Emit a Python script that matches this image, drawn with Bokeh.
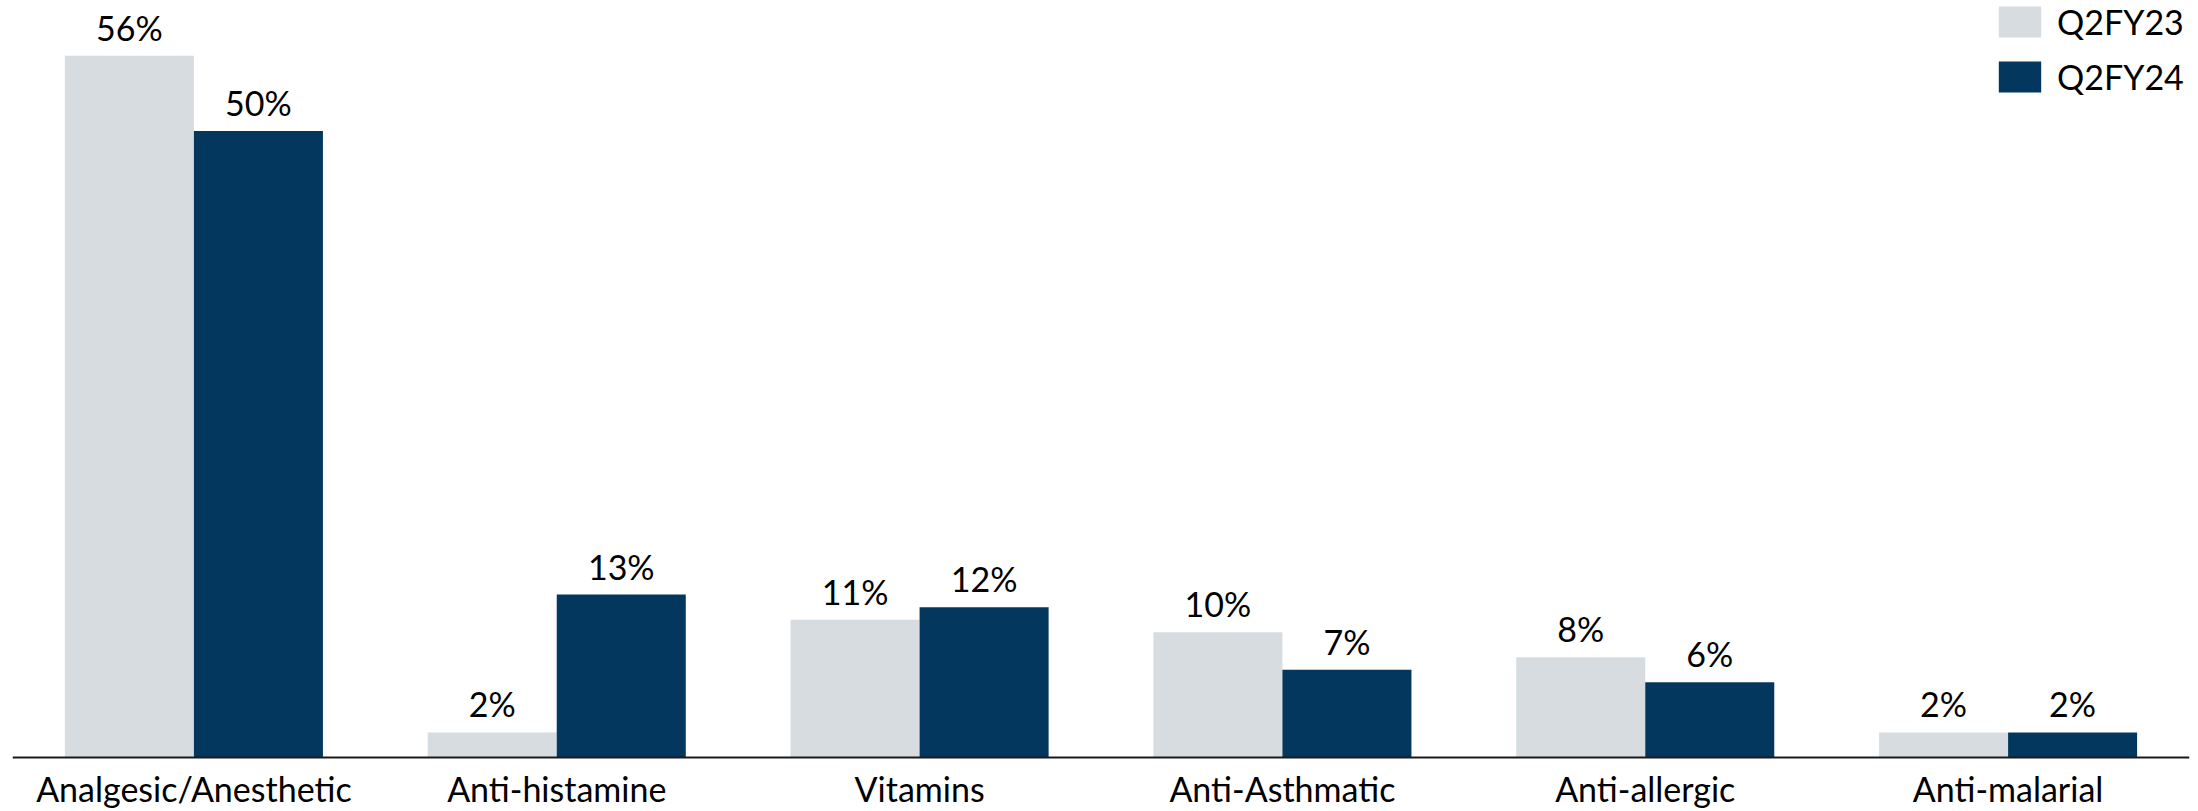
from bokeh.plotting import figure
from bokeh.models import (ColumnDataSource, Legend, LegendItem, FactorRange,
                          Range1d, LabelSet, Span)
from bokeh.transform import dodge
from bokeh.core.properties import value
from bokeh.embed import file_html
from bokeh.resources import INLINE

categories = ["Analgesic/Anesthetic", "Anti-histamine", "Vitamins",
              "Anti-Asthmatic", "Anti-allergic", "Anti-malarial"]
q2fy23 = [56, 2, 11, 10, 8, 2]
q2fy24 = [50, 13, 12, 7, 6, 2]
series_names = ["Q2FY23", "Q2FY24"]

LIGHT = "#D6DCE0"
DARK = "#03375E"
FONT = "Lato"
FS = "34px"

W, H = 2198, 811
AXIS_Y = 757      # pixel row of the baseline
PX_PER_UNIT = 12.53

src = ColumnDataSource(data=dict(
    cat=categories,
    a=q2fy23,
    b=q2fy24,
    a_lbl=[f"{v}%" for v in q2fy23],
    b_lbl=[f"{v}%" for v in q2fy24],
    zero=[0] * len(categories),
))

p = figure(x_range=FactorRange(*categories, range_padding=0),
           y_range=Range1d(-(H - AXIS_Y) / PX_PER_UNIT, AXIS_Y / PX_PER_UNIT),
           width=W, height=H,
           output_backend="svg", toolbar_location=None,
           min_border_left=12, min_border_right=9,
           min_border_top=0, min_border_bottom=0)

bw = 0.3556
off = 0.1778
ra = p.vbar(x=dodge("cat", -off, range=p.x_range), top="a", width=bw,
            source=src, fill_color=LIGHT, line_color=None)
rb = p.vbar(x=dodge("cat", off, range=p.x_range), top="b", width=bw,
            source=src, fill_color=DARK, line_color=None)

for col, lbl, o in (("a", "a_lbl", -off), ("b", "b_lbl", off)):
    p.add_layout(LabelSet(x=dodge("cat", o, range=p.x_range), y=col, text=lbl,
                          source=src, text_align="center",
                          text_baseline="alphabetic", y_offset=15,
                          text_font=value(FONT), text_font_size=FS,
                          text_color="#000000"))

# category labels under the baseline
p.add_layout(LabelSet(x="cat", y="zero", text="cat", source=src,
                      text_align="center", text_baseline="alphabetic",
                      y_offset=-44, text_font=value(FONT), text_font_size=FS,
                      text_color="#000000"))

p.add_layout(Span(location=0, dimension="width", line_color="#1a1a1a",
                  line_width=2))

p.xaxis.visible = False
p.yaxis.visible = False
p.xgrid.visible = False
p.ygrid.visible = False
p.outline_line_color = None

legend = Legend(items=[LegendItem(label=series_names[0], renderers=[ra]),
                       LegendItem(label=series_names[1], renderers=[rb])],
                location=(1981, H - 5 - 92),
                glyph_width=53, glyph_height=39, label_height=39,
                spacing=14, padding=0, margin=0, label_standoff=11,
                label_text_font=FONT, label_text_font_size=FS,
                label_text_color="#000000",
                border_line_color=None, background_fill_alpha=0)
p.add_layout(legend)

open("out.html", "w").write(file_html(p, INLINE))
